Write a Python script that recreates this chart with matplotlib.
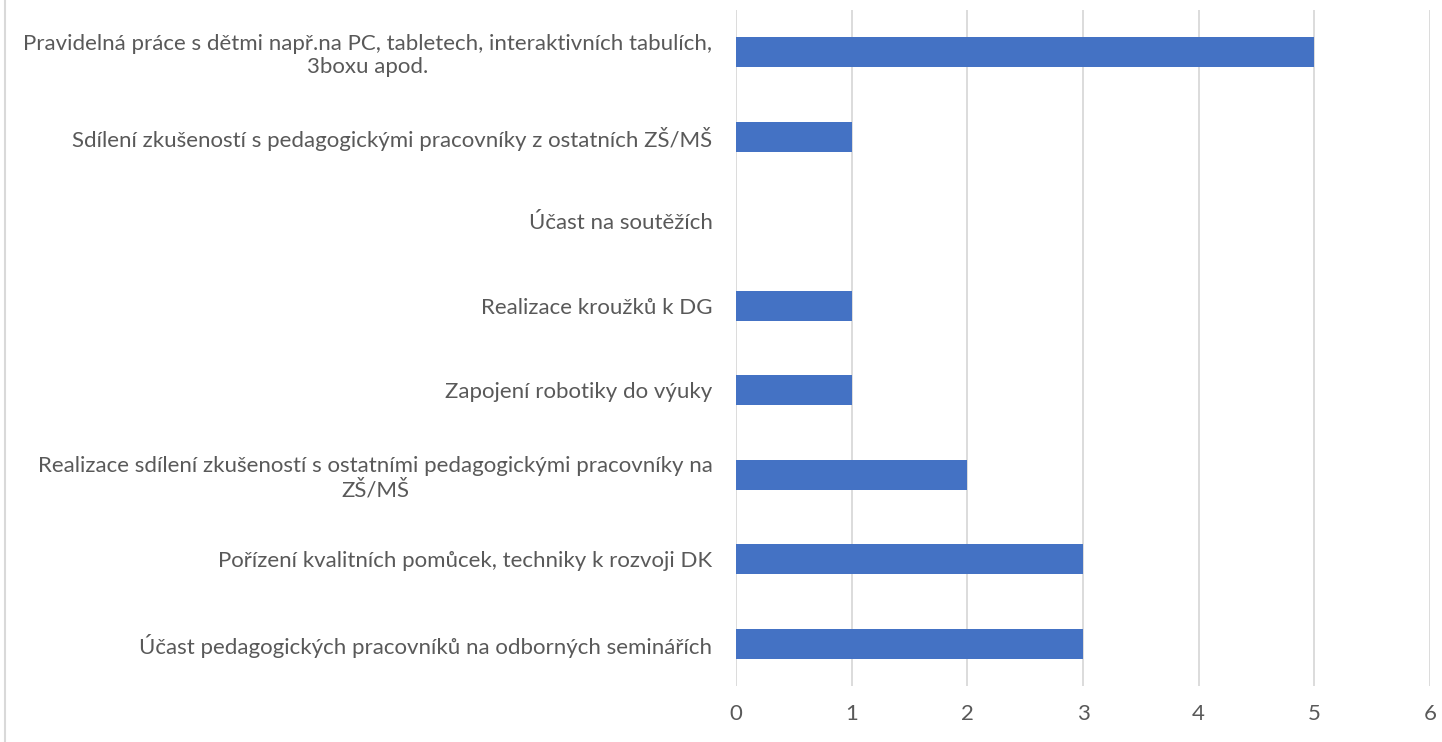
import matplotlib
matplotlib.use("Agg")
import matplotlib.pyplot as plt
from matplotlib.lines import Line2D

categories = [
    "Účast pedagogických pracovníků na odborných seminářích",
    "Pořízení kvalitních pomůcek, techniky k rozvoji DK",
    "Realizace sdílení zkušeností s ostatními pedagogickými pracovníky na\nZŠ/MŠ",
    "Zapojení robotiky do výuky",
    "Realizace kroužků k DG",
    "Účast na soutěžích",
    "Sdílení zkušeností s pedagogickými pracovníky z ostatních ZŠ/MŠ",
    "Pravidelná práce s dětmi např.na PC, tabletech, interaktivních tabulích,\n3boxu apod.",
]
values = [3, 3, 2, 1, 1, 0, 1, 5]
xticks = [0, 1, 2, 3, 4, 5, 6]

plt.rcParams['font.family'] = ['Lato', 'DejaVu Sans']

fig = plt.figure(figsize=(14.42, 7.42), dpi=100)
ax = fig.add_axes([736/1442, 1-686/742, (1430-736)/1442, (686-10)/742])

ypos = list(range(len(categories)))
ax.barh(ypos, values, height=0.36, color="#4472C4", zorder=3)
ax.set_ylim(-0.5, len(categories)-0.5)
ax.set_xlim(0, 6)
ax.set_xticks(xticks)
ax.set_xticklabels([str(t) for t in xticks])
ax.set_yticks(ypos)
ax.set_yticklabels(categories, multialignment='center')
ax.grid(axis='x', color='#D9D9D9', linewidth=1.3, zorder=0)
for s in ax.spines.values():
    s.set_visible(False)
ax.tick_params(axis='both', length=0, labelsize=16, colors='#595959')
ax.tick_params(axis='y', pad=17)
ax.tick_params(axis='x', pad=13)

fig.add_artist(Line2D([5/1442, 5/1442], [0, 1], color='#D9D9D9', linewidth=1.5, transform=fig.transFigure))

fig.savefig("out.png", dpi=100)
